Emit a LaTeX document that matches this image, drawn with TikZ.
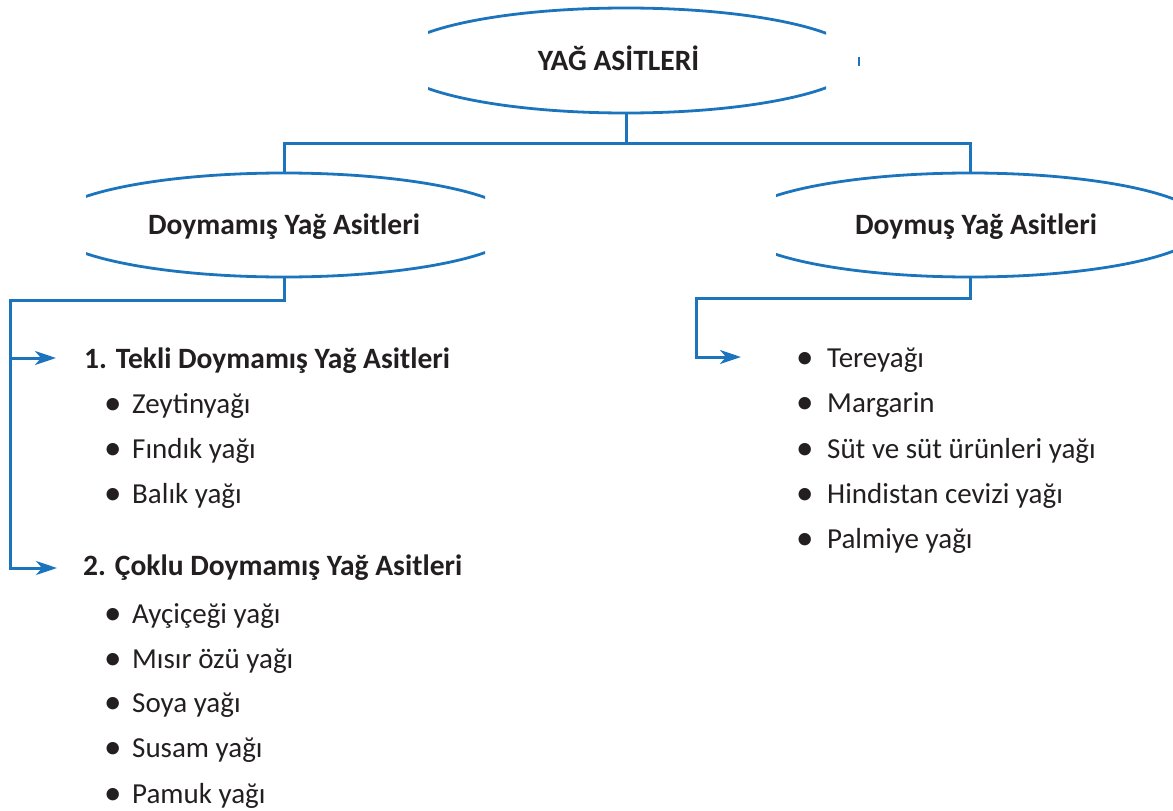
\documentclass[tikz,border=0pt]{standalone}
\usepackage{fontspec}
\setmainfont{Carlito}
\usetikzlibrary{arrows.meta,shapes.geometric,calc}
\definecolor{lineblue}{RGB}{28,117,188}
\definecolor{ink}{RGB}{35,31,32}
\newcommand\bul[1]{\makebox[#1pt][l]{\raisebox{-1.5pt}{\fontsize{35}{35}\selectfont •}}}
\begin{document}
\begin{tikzpicture}[x=1pt,y=-1pt,
  font=\fontsize{29}{34}\selectfont,
  conn/.style={draw=lineblue, line width=3pt},
  arr/.style={conn, -{Stealth[length=21pt,width=14pt,inset=6pt]}},
  ell/.style={ellipse, draw=lineblue, line width=2.8pt, outer sep=0pt, inner sep=0pt,
    font=\fontsize{29.5}{34}\selectfont\bfseries, text=ink, text height=19pt, text depth=0pt},
  head/.style={anchor=base west, inner sep=0pt, font=\fontsize{29.5}{34}\selectfont\bfseries, text=ink},
  item/.style={anchor=base west, inner sep=0pt, text=ink}]
\useasboundingbox (0,0) rectangle (1173,811);

% ellipses (sides clipped)
\begin{scope}
  \clip (428,0) rectangle (826,130);
  \node[ell, minimum width=468pt, minimum height=105pt] (top) at (626,60.5) {YAĞ ASİTLERİ\kern15pt};
\end{scope}
\begin{scope}
  \clip (86,150) rectangle (485,300);
  \node[ell, minimum width=474pt, minimum height=104pt] (dl) at (284,225) {Doymamış Yağ Asitleri};
\end{scope}
\begin{scope}
  \clip (776,150) rectangle (1173,300);
  \node[ell, minimum width=470pt, minimum height=104pt] (ds) at (970,225) {\kern12pt Doymuş Yağ Asitleri};
\end{scope}
\draw[lineblue, line width=1.2pt] (859,57) -- (859,66);

% tree connectors
\coordinate (bar) at (626,143);
\draw[conn] (top.south) -- (bar);
\draw[conn] (dl.north) -- (dl.north |- bar) -- (ds.north |- bar) -- (ds.north);

% left branch
\node[head] (t1) at (84,368) {1. Tekli Doymamış Yağ Asitleri};
\node[head] (t2) at (83,575) {2. Çoklu Doymamış Yağ Asitleri};
\coordinate (lcorner) at (10,300);
\coordinate (a1) at (56,358);
\coordinate (a2) at (57,568);
\draw[arr] (dl.south) |- (lcorner) |- (a2);
\draw[arr] (lcorner |- a1) -- (a1);

\node[item] (l1) at (104,413) {\bul{28}Zeytinyağı};
\node[item] (l2) at (104,458) {\bul{28}Fındık yağı};
\node[item] (l3) at (104,503) {\bul{28}Balık yağı};
\node[item] (l4) at (104,623) {\bul{28}Ayçiçeği yağı};
\node[item] (l5) at (104,668) {\bul{28}Mısır özü yağı};
\node[item] (l6) at (104,712) {\bul{28}Soya yağı};
\node[item] (l7) at (104,757) {\bul{28}Susam yağı};
\node[item] (l8) at (104,803) {\bul{28}Pamuk yağı};

% right branch
\coordinate (rcorner) at (696,298);
\coordinate (a3) at (741,357);
\draw[arr] (ds.south) |- (rcorner) |- (a3);

\node[item] (r1) at (796,367) {\bul{31}Tereyağı};
\node[item] (r2) at (796,412) {\bul{31}Margarin};
\node[item] (r3) at (796,458) {\bul{31}Süt ve süt ürünleri yağı};
\node[item] (r4) at (796,503) {\bul{31}Hindistan cevizi yağı};
\node[item] (r5) at (796,548) {\bul{31}Palmiye yağı};
\end{tikzpicture}
\end{document}
